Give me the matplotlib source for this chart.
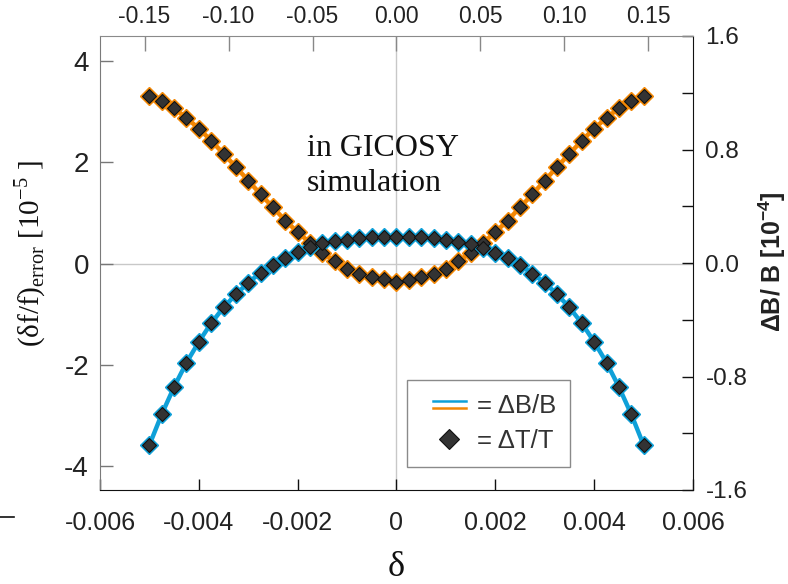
import numpy as np
import matplotlib
matplotlib.use("Agg")
import matplotlib.pyplot as plt
from matplotlib.lines import Line2D
from matplotlib.legend_handler import HandlerBase
from matplotlib.ticker import FixedLocator, FuncFormatter

plt.rcParams["axes.unicode_minus"] = False
plt.rcParams["font.family"] = ["Liberation Sans", "DejaVu Sans"]
plt.rcParams["mathtext.fontset"] = "custom"
plt.rcParams["mathtext.rm"] = "Liberation Serif"
plt.rcParams["mathtext.bf"] = "Liberation Sans:bold"

# relative momentum deviation
delta = np.linspace(-0.005, 0.005, 41)

# frequency error, field-error curve (blue) [1e-5]
err_blue = [-3.59, -2.98, -2.44, -1.96, -1.55, -1.18, -0.87, -0.61, -0.38, -0.18,
            -0.03, 0.10, 0.22, 0.33, 0.40, 0.44, 0.47, 0.50, 0.52, 0.53,
            0.53,
            0.53, 0.52, 0.50, 0.47, 0.43, 0.38, 0.31, 0.21, 0.10, -0.03,
            -0.20, -0.38, -0.61, -0.87, -1.18, -1.55, -1.96, -2.44, -2.98, -3.59]

# frequency error, field-error curve (orange) [1e-5]
err_orange = [3.31, 3.21, 3.07, 2.88, 2.67, 2.43, 2.17, 1.91, 1.64, 1.37,
              1.11, 0.85, 0.62, 0.41, 0.21, 0.05, -0.10, -0.20, -0.26, -0.31,
              -0.36,
              -0.33, -0.27, -0.20, -0.10, 0.05, 0.21, 0.41, 0.62, 0.85, 1.11,
              1.37, 1.64, 1.91, 2.17, 2.43, 2.67, 2.88, 3.07, 3.21, 3.31]

bottom_ticks = [-0.006, -0.004, -0.002, 0, 0.002, 0.004, 0.006]
bottom_labels = ["-0.006", "-0.004", "-0.002", "0", "0.002", "0.004", "0.006"]
top_ticks = [-0.15, -0.10, -0.05, 0.00, 0.05, 0.10, 0.15]
left_ticks = [-4, -2, 0, 2, 4]
right_ticks = [-1.6, -1.2, -0.8, -0.4, 0.0, 0.4, 0.8, 1.2, 1.6]
right_labelled = [-1.6, -0.8, 0.0, 0.8, 1.6]

BLUE = "#0fa0d8"
ORANGE = "#f28705"
GRID = "#c8c8c8"
TXT = "#222222"

fig = plt.figure(figsize=(7.88, 5.84), dpi=100)
ax = fig.add_axes([100 / 788, 94 / 584, 593 / 788, 454 / 584])
ax.set_xlim(-0.006, 0.006)
ax.set_ylim(-4.48, 4.5)

ax.axhline(0, color=GRID, lw=1.0, zorder=1)
ax.axvline(0, color=GRID, lw=1.0, zorder=1)

for vals, col in ((err_orange, ORANGE), (err_blue, BLUE)):
    ax.plot(delta, vals, color=col, lw=3.2, marker="D", ms=9.0,
            mfc=col, mec=col, zorder=3)
    ax.plot(delta, vals, ls="none", marker="D", ms=6.8,
            mfc="#333333", mec="#111111", mew=0.8, zorder=4)

# axis styling
ax.set_xticks(bottom_ticks)
ax.set_xticklabels(bottom_labels)
ax.set_yticks(left_ticks)
ax.tick_params(axis="x", direction="in", length=8, width=1, colors="#111111",
               labelsize=18, pad=15, labelcolor=TXT)
ax.tick_params(axis="y", direction="in", length=9, width=1, colors="#777777",
               labelsize=20, pad=8, labelcolor=TXT)
ax.spines["left"].set_color("#7a7a7a")
ax.spines["bottom"].set_color("#111111")
ax.spines["top"].set_visible(False)
ax.spines["right"].set_visible(False)

# right axis
axr = ax.twinx()
axr.set_ylim(-1.6, 1.6)
axr.yaxis.set_major_locator(FixedLocator(right_ticks))
axr.yaxis.set_major_formatter(FuncFormatter(
    lambda v, p: f"{v:.1f}" if any(abs(v - t) < 1e-9 for t in right_labelled) else ""))
axr.tick_params(axis="y", direction="in", length=8, width=1, colors="#111111",
                labelsize=17.5, pad=9, labelcolor=TXT)
for s in ("left", "top", "bottom"):
    axr.spines[s].set_visible(False)
axr.spines["right"].set_color("#111111")

# top axis
axt = ax.twiny()
axt.set_xlim(-0.1765, 0.1765)
axt.set_xticks(top_ticks)
axt.set_xticklabels([f"{t:.2f}" for t in top_ticks])
axt.tick_params(axis="x", direction="in", length=11, width=1, colors="#888888",
                labelsize=16.5, pad=6, labelcolor=TXT)
for s in ("left", "right", "bottom"):
    axt.spines[s].set_visible(False)
axt.spines["top"].set_color("#8a8a8a")

# labels
ax.set_xlabel("δ", family="Liberation Serif", fontsize=26, labelpad=12, color="#111111")
fig.text(30 / 788, 1 - 254 / 584, r"(δf/f)$_{\mathrm{error}}$ [10$^{\mathrm{-5}}$ ]",
         family="Liberation Serif", fontsize=21, rotation=90,
         ha="center", va="center", color="#111111")
fig.text(772 / 788, 1 - 262 / 584, r"ΔB/ B [10$^{\mathbf{-4}}$]",
         fontsize=18, fontweight="bold", rotation=90,
         ha="center", va="center", color=TXT)

ax.text(0.349, 0.785, "in GICOSY\nsimulation", transform=ax.transAxes,
        family="Liberation Serif", fontsize=23, ha="left", va="top",
        linespacing=1.3, color="#111111", zorder=5)

# stray mark at the left edge
fig.add_artist(Line2D([0, 14 / 788], [1 - 517 / 584] * 2, color="#111111", lw=1.2))


class StackedLines:
    pass


class DiamondKey:
    pass


class LegendKeyHandler(HandlerBase):
    """Legend keys drawn in the right-hand part of the handle box."""

    def create_artists(self, legend, orig_handle, xdescent, ydescent,
                       width, height, fontsize, trans):
        yc = height / 2 - ydescent
        x0, x1 = -xdescent + 0.25 * width, width - xdescent
        if isinstance(orig_handle, StackedLines):
            l1 = Line2D([x0, x1], [yc + 2.6, yc + 2.6], color=BLUE, lw=1.8,
                        transform=trans)
            l2 = Line2D([x0, x1], [yc - 2.6, yc - 2.6], color=ORANGE, lw=1.8,
                        transform=trans)
            return [l1, l2]
        xm = (x0 + x1) / 2
        d = Line2D([xm], [yc], ls="none", marker="D", ms=10, mfc="#333333",
                   mec="#111111", mew=0.8, transform=trans)
        return [d]


handler = LegendKeyHandler()
leg = ax.legend([StackedLines(), DiamondKey()], ["= ΔB/B", "= ΔT/T"],
                handler_map={StackedLines: handler, DiamondKey: handler},
                loc="lower left", bbox_to_anchor=(0.518, 0.05),
                fontsize=18.5, frameon=True, fancybox=False, framealpha=1,
                edgecolor="#8a8a8a", borderpad=0.55, labelspacing=0.42,
                handlelength=1.75, handletextpad=0.4, borderaxespad=0)
leg.get_frame().set_linewidth(1.0)
for t in leg.get_texts():
    t.set_color("#333333")
leg.set_zorder(6)

fig.savefig("out.png", dpi=100)
